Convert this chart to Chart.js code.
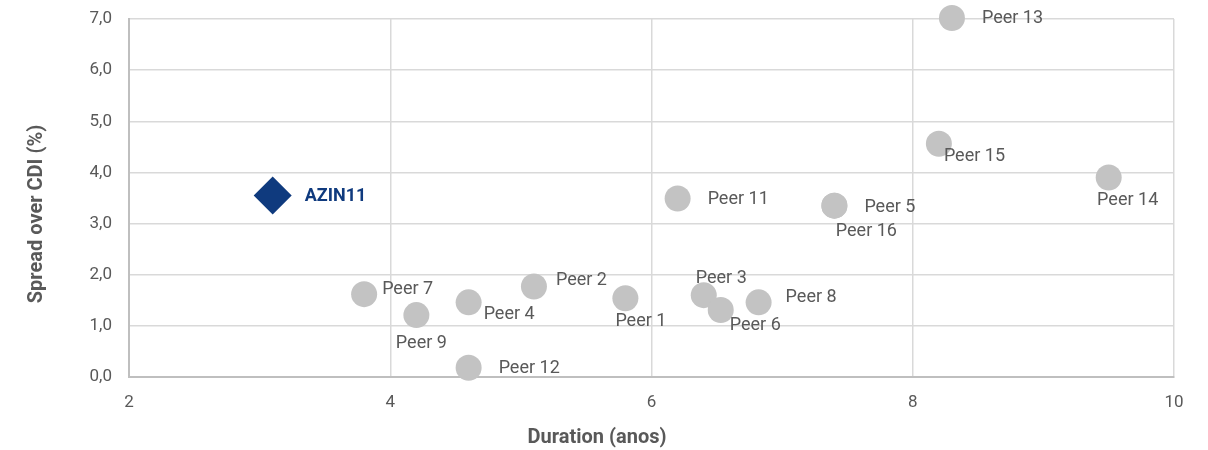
<!DOCTYPE html>
<html>
<head>
<meta charset="utf-8">
<script src="https://cdn.jsdelivr.net/npm/chart.js@4.4.0/dist/chart.umd.min.js"></script>
<style>
  html, body { margin: 0; padding: 0; background: #ffffff; }
  #wrap { width: 1208px; height: 450px; position: relative; }
</style>
</head>
<body>
<div id="wrap"><canvas id="c" width="1208" height="450"></canvas></div>
<script>
// ---- Data ----
const peerNames = ["Peer 1","Peer 2","Peer 3","Peer 4","Peer 5","Peer 6","Peer 7","Peer 8",
                   "Peer 9","Peer 11","Peer 12","Peer 13","Peer 14","Peer 15","Peer 16"];
const peerDuration = [5.8, 5.1, 6.4, 4.6, 7.4, 6.53, 3.8, 6.82, 4.2, 6.2, 4.6, 8.3, 9.5, 8.2, 7.4];
const peerSpread   = [1.54, 1.77, 1.6, 1.46, 3.35, 1.31, 1.62, 1.46, 1.21, 3.49, 0.18, 7.02, 3.9, 4.56, 3.35];
const azinName = ["AZIN11"];
const azinDuration = [3.1];
const azinSpread = [3.55];
const xTicks = [2, 4, 6, 8, 10];
const yTicks = [0, 1, 2, 3, 4, 5, 6, 7];
const xTitle = 'Duration (anos)';
const yTitle = 'Spread over CDI (%)';

// ---- Label placement (style) ----
// [dx, dy, align] offsets from point centre
const peerLabelPlace = [
  [-10, 23, 'left'],   // Peer 1
  [22, -6, 'left'],    // Peer 2
  [-8, -17, 'left'],   // Peer 3
  [15, 12, 'left'],    // Peer 4
  [30, 2, 'left'],     // Peer 5
  [9, 15, 'left'],     // Peer 6
  [18, -5, 'left'],    // Peer 7
  [27, -5, 'left'],    // Peer 8
  [5, 28, 'center'],   // Peer 9
  [30, 1, 'left'],     // Peer 11
  [30, 1, 'left'],     // Peer 12
  [30, 1, 'left'],     // Peer 13
  [19, 23, 'center'],  // Peer 14
  [5, 13, 'left'],     // Peer 15
  [32, 26, 'center']   // Peer 16
];

const gridColor = '#d9d9d9';
const textColor = '#595959';
const navy = '#0f3a7e';

const pointLabels = {
  id: 'pointLabels',
  afterDatasetsDraw(chart) {
    const ctx = chart.ctx;
    ctx.save();
    ctx.textBaseline = 'middle';
    chart.data.datasets.forEach((ds, di) => {
      const meta = chart.getDatasetMeta(di);
      meta.data.forEach((el, i) => {
        const place = ds.labelPlace[i];
        ctx.font = ds.labelFont;
        ctx.fillStyle = ds.labelColor;
        ctx.textAlign = place[2];
        ctx.fillText(ds.labelsText[i], el.x + place[0], el.y + place[1]);
      });
    });
    // axis titles
    ctx.fillStyle = textColor;
    ctx.font = 'bold 20px Roboto';
    ctx.textAlign = 'center';
    ctx.textBaseline = 'middle';
    ctx.fillText(xTitle, 597, 438);
    ctx.translate(37, 214);
    ctx.rotate(-Math.PI / 2);
    ctx.fillText(yTitle, 0, 0);
    ctx.restore();
  }
};

new Chart(document.getElementById('c'), {
  type: 'scatter',
  data: {
    datasets: [
      {
        label: 'Peers',
        data: peerDuration.map((d, i) => ({ x: d, y: peerSpread[i] })),
        backgroundColor: '#c3c3c3',
        borderColor: '#c3c3c3',
        borderWidth: 0,
        pointRadius: 13,
        pointHoverRadius: 13,
        clip: false,
        labelsText: peerNames,
        labelPlace: peerLabelPlace,
        labelFont: '18px Roboto',
        labelColor: textColor
      },
      {
        label: 'AZIN11',
        data: azinDuration.map((d, i) => ({ x: d, y: azinSpread[i] })),
        backgroundColor: navy,
        borderColor: navy,
        borderWidth: 0,
        pointStyle: 'rectRot',
        pointRadius: 19,
        pointHoverRadius: 19,
        clip: false,
        labelsText: azinName,
        labelPlace: [[32, 1, 'left']],
        labelFont: 'bold 18px Roboto',
        labelColor: navy
      }
    ]
  },
  options: {
    responsive: false,
    animation: false,
    devicePixelRatio: 1,
    layout: { padding: { left: 0, right: 34, top: 18, bottom: 0 } },
    plugins: { legend: { display: false }, tooltip: { enabled: false } },
    scales: {
      x: {
        type: 'linear',
        min: 2, max: 10,
        afterBuildTicks(axis) { axis.ticks = xTicks.map(v => ({ value: v })); },
        afterFit(axis) { axis.height = 73; },
        grid: { color: gridColor, lineWidth: 1.5, drawTicks: true, tickLength: 16, tickColor: 'rgba(0,0,0,0)' },
        border: { color: '#bfbfbf', width: 2 },
        ticks: { color: textColor, font: { family: 'Roboto', size: 17 }, padding: 0 },
        title: { display: false }
      },
      y: {
        type: 'linear',
        min: 0, max: 7,
        afterBuildTicks(axis) { axis.ticks = yTicks.map(v => ({ value: v })); },
        afterFit(axis) { axis.width = 129; },
        grid: { color: gridColor, lineWidth: 1.5, drawTicks: true, tickLength: 17, tickColor: 'rgba(0,0,0,0)' },
        border: { color: '#bfbfbf', width: 2 },
        ticks: { color: textColor, font: { family: 'Roboto', size: 17 }, padding: 0,
                 callback: v => v.toFixed(1).replace('.', ',') },
        title: { display: false }
      }
    }
  },
  plugins: [pointLabels]
});
</script>
</body>
</html>
